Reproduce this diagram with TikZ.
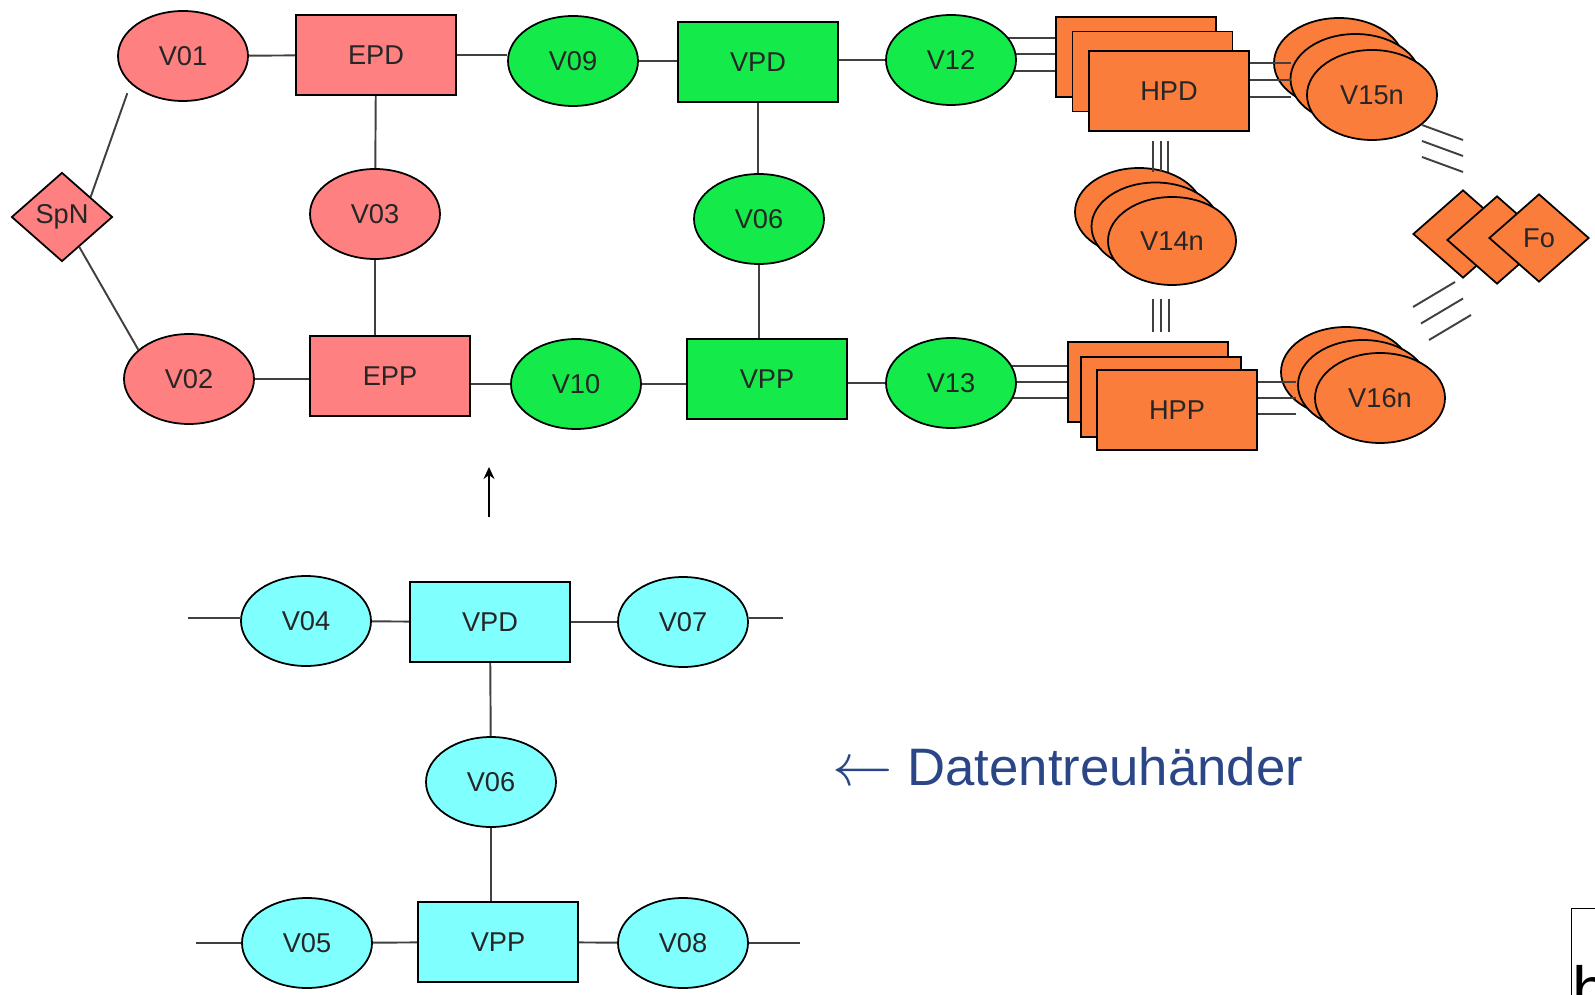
\documentclass[tikz,border=0pt]{standalone}
\usepackage{fontspec}
\setmainfont{Liberation Sans}
\definecolor{redfill}{RGB}{255, 128, 128}
\definecolor{greenfill}{RGB}{20, 235, 75}
\definecolor{cyanfill}{RGB}{128, 255, 255}
\definecolor{orangefill}{RGB}{250, 125, 60}
\definecolor{trustblue}{RGB}{42, 70, 135}
\usetikzlibrary{shapes.geometric, arrows.meta, calc, backgrounds}

\begin{document}
\begin{tikzpicture}[
  vell/.style={draw, ellipse, minimum width=2.6cm, minimum height=1.8cm, inner sep=0pt, line width=1pt, text=black!85, font=\fontsize{15.5}{18}\selectfont},
  pbox/.style={draw, rectangle, minimum width=3.2cm, minimum height=1.6cm, inner sep=0pt, line width=1pt, text=black!85, font=\fontsize{15.5}{18}\selectfont},
  rhomb/.style={draw, diamond, minimum width=2cm, minimum height=1.76cm, inner sep=0pt, line width=1pt, text=black!85, font=\fontsize{15.5}{18}\selectfont},
  conn/.style={draw=black!75, line width=1.1pt}
]
  \useasboundingbox (0,0) rectangle (31.9,-19.9);

  % red part
  \node[rhomb, fill=redfill, minimum width=2.02cm, minimum height=1.78cm] (SpN) at (1.24,-4.34) {SpN};
  \node[vell, fill=redfill] (V01) at (3.66,-1.12) {V01};
  \node[pbox, fill=redfill] (EPD) at (7.52,-1.10) {EPD};
  \node[vell, fill=redfill] (V03) at (7.50,-4.28) {V03};
  \node[vell, fill=redfill] (V02) at (3.78,-7.58) {V02};
  \node[pbox, fill=redfill] (EPP) at (7.80,-7.52) {EPP};

  % green part
  \node[vell, fill=greenfill] (V09) at (11.46,-1.22) {V09};
  \node[pbox, fill=greenfill] (VPD) at (15.16,-1.24) {VPD};
  \node[vell, fill=greenfill] (V12) at (19.02,-1.20) {V12};
  \node[vell, fill=greenfill] (V06) at (15.18,-4.38) {V06};
  \node[vell, fill=greenfill] (V10) at (11.52,-7.68) {V10};
  \node[pbox, fill=greenfill] (VPP) at (15.34,-7.58) {VPP};
  \node[vell, fill=greenfill] (V13) at (19.02,-7.66) {V13};

  % orange stacks
  \node[pbox, fill=orangefill] (HPDa) at (22.72,-1.14) {};
  \node[pbox, fill=orangefill] (HPDb) at (23.05,-1.43) {};
  \node[pbox, fill=orangefill] (HPDc) at (23.38,-1.82) {HPD};
  \node[vell, fill=orangefill] (V15a) at (26.78,-1.26) {};
  \node[vell, fill=orangefill] (V15b) at (27.11,-1.58) {};
  \node[vell, fill=orangefill] (V15c) at (27.44,-1.90) {V15n};
  \node[vell, fill=orangefill, minimum width=2.56cm, minimum height=1.76cm] (V14a) at (22.78,-4.24) {};
  \node[vell, fill=orangefill, minimum width=2.56cm, minimum height=1.76cm] (V14b) at (23.11,-4.53) {};
  \node[vell, fill=orangefill, minimum width=2.56cm, minimum height=1.76cm] (V14c) at (23.44,-4.82) {V14n};
  \node[pbox, fill=orangefill] (HPPa) at (22.96,-7.64) {};
  \node[pbox, fill=orangefill] (HPPb) at (23.22,-7.94) {};
  \node[pbox, fill=orangefill] (HPPc) at (23.54,-8.20) {HPP};
  \node[vell, fill=orangefill] (V16a) at (26.92,-7.44) {};
  \node[vell, fill=orangefill] (V16b) at (27.26,-7.70) {};
  \node[vell, fill=orangefill] (V16c) at (27.60,-7.96) {V16n};
  \node[rhomb, fill=orangefill] (Foa) at (29.26,-4.68) {};
  \node[rhomb, fill=orangefill] (Fob) at (29.94,-4.80) {};
  \node[rhomb, fill=orangefill] (Foc) at (30.78,-4.76) {Fo};

  % connectors upper net
  \draw[conn, shorten >=0.2cm] (SpN.35) -- (V01.208);
  \draw[conn] (SpN.-60) -- (V02.150);
  \draw[conn] (V01) -- (EPD);
  \draw[conn] (EPD) -- (V03);
  \draw[conn] (V03) -- (V03 |- EPP.north);
  \draw[conn] (V02) -- (V02 -| EPP.west);
  \draw[conn] (EPD) -- (EPD -| V09.west);
  \draw[conn] (EPP.east |- V10) -- (V10);
  \draw[conn] (V09) -- (V09 -| VPD.west);
  \draw[conn] (VPD.east |- V12) -- (V12);
  \draw[conn] (VPD) -- (VPD |- V06.north);
  \draw[conn] (V06) -- (V06 |- VPP.north);
  \draw[conn] (V10) -- (V10 -| VPP.west);
  \draw[conn] (VPP.east |- V13) -- (V13);

  \begin{scope}[on background layer]
    \foreach \dy in {0.38,0.06,-0.28}
      \draw[conn] ($(HPDa.west)+(0,\dy)$) -- ($(HPDa.west -| V12.center)+(0,\dy)$);
    \foreach \dy in {0.32,0,-0.32}
      \draw[conn] ($(HPPa.west)+(0,\dy)$) -- ($(HPPa.west -| V13.center)+(0,\dy)$);
  \end{scope}
  \foreach \dy in {0.56,0.22,-0.12}
    \draw[conn] ($(HPDc.east)+(0,\dy)$) -- ($(HPDc.east -| V15c.west)+(-0.3,\dy)$);
  \foreach \dy in {0.56,0.24,-0.08}
    \draw[conn] ($(HPPc.east)+(0,\dy)$) -- ($(HPPc.east -| V16c.west)+(-0.36,\dy)$);
  \foreach \dx in {-0.32,-0.16,-0.02}
    \draw[conn] ($(HPDc.south)+(\dx,-0.18)$) -- ($(HPDc.south |- V14a.north)+(\dx,-0.1)$);
  \foreach \dx in {-0.38,-0.22,-0.06}
    \draw[conn] ($(V14c.south)+(\dx,-0.26)$) -- ($(V14c.south |- HPPa.north)+(\dx,0.18)$);

  % hatch marks towards Fo
  \coordinate (h15) at (28.44,-2.5);
  \coordinate (h16) at (28.26,-6.14);
  \foreach \i in {0,1,2}
    \draw[conn] ($(h15)+(0,-0.32*\i)$) -- ++(0.82,-0.3);
  \foreach \i in {0,1,2}
    \draw[conn] ($(h16)+(0.16*\i,-0.33*\i)$) -- ++(0.84,0.5);

  % arrow up
  \coordinate (up0) at (9.78,-10.34);
  \coordinate (up1) at (9.78,-9.34);
  \draw[line width=1pt, -{Stealth[length=2.4mm, width=2.2mm]}] (up0) -- (up1);

  % cyan part
  \node[vell, fill=cyanfill] (V04) at (6.12,-12.42) {V04};
  \node[pbox, fill=cyanfill] (VPDt) at (9.80,-12.44) {VPD};
  \node[vell, fill=cyanfill] (V07) at (13.66,-12.44) {V07};
  \node[vell, fill=cyanfill] (V06t) at (9.82,-15.64) {V06};
  \node[vell, fill=cyanfill] (V05) at (6.14,-18.86) {V05};
  \node[pbox, fill=cyanfill] (VPPt) at (9.96,-18.84) {VPP};
  \node[vell, fill=cyanfill] (V08) at (13.66,-18.86) {V08};
  \coordinate (l04) at (3.76,-12.36);
  \coordinate (r07) at (15.66,-12.36);
  \coordinate (l05) at (3.92,-18.86);
  \coordinate (r08) at (16.0,-18.86);

  \draw[conn] (l04) -- (l04 -| V04.west);
  \draw[conn] (V04) -- (VPDt);
  \draw[conn] (VPDt) -- (V07);
  \draw[conn] (r07 -| V07.east) -- (r07);
  \draw[conn] (VPDt) -- (V06t);
  \draw[conn] (V06t) -- (V06t |- VPPt.north);
  \draw[conn] (l05) -- (V05);
  \draw[conn] (V05) -- (VPPt);
  \draw[conn] (VPPt) -- (V08);
  \draw[conn] (V08) -- (r08);

  \node[anchor=base west, inner sep=0pt, text=trustblue, font=\fontsize{30}{34}\selectfont] (trust) at (16.64,-15.70) {\scalebox{1.38}{$\leftarrow$} Datentreuhänder};

  % cut-off box at the corner
  \node[draw, line width=0.8pt, anchor=north west, minimum width=2cm, minimum height=2cm] (logo) at (31.42,-18.16) {};
  \node[anchor=base west, inner sep=0pt, font=\fontsize{37}{40}\selectfont] (logotxt) at (31.44,-20.24) {h};
\end{tikzpicture}
\end{document}
